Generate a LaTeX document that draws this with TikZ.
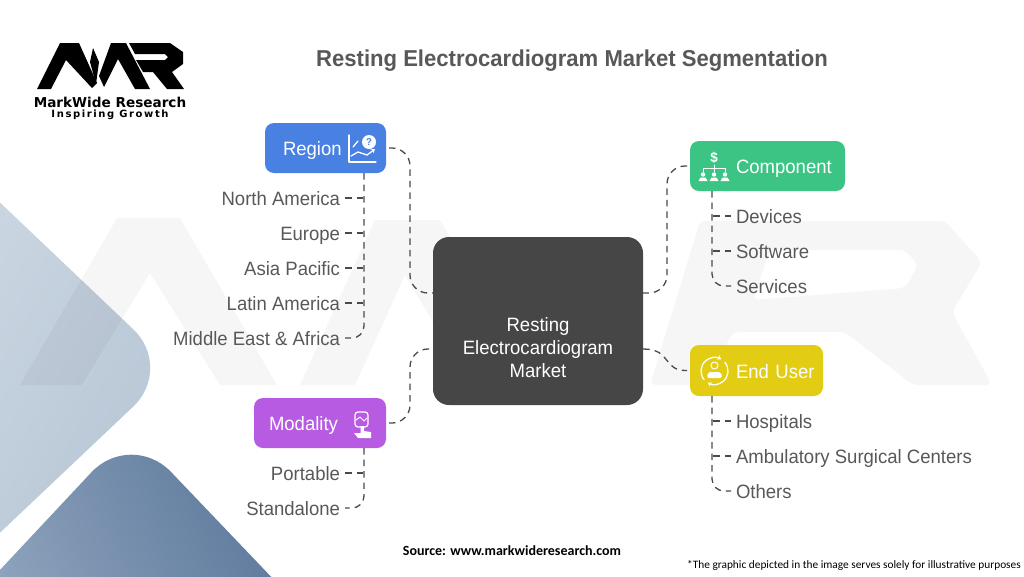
\documentclass[tikz,border=0pt]{standalone}
\usepackage{fontspec}
\usepackage{xcolor}
\usepackage{tikz}
\usetikzlibrary{arrows.meta, calc, positioning}
\setmainfont[FakeStretch=0.96]{Liberation Sans}
\newfontfamily\notefont{Carlito}
\newfontfamily\brandfont{DejaVu Sans}
\newfontfamily\tagfont[LetterSpace=16]{DejaVu Sans}
\definecolor{inkgray}{RGB}{88,88,88}
\definecolor{darkbox}{RGB}{70,70,70}
\definecolor{linegray}{RGB}{74,74,74}
\definecolor{regionc}{RGB}{72,129,226}
\definecolor{compc}{RGB}{60,196,133}
\definecolor{userc}{RGB}{226,204,20}
\definecolor{modc}{RGB}{183,92,226}
\definecolor{paletop}{RGB}{203,214,225}
\definecolor{palelow}{RGB}{182,197,213}
\definecolor{deeptop}{RGB}{146,166,191}
\definecolor{deeplow}{RGB}{88,117,153}

\begin{document}
\begin{tikzpicture}[
  x=1pt, y=-1pt,
  catbox/.style={rounded corners=9pt, text=white, inner xsep=0pt, inner ysep=0pt,
                 align=left, minimum height=50pt, outer sep=3pt,
                 text height=19pt, text depth=4pt,
                 font=\fontsize{19.3}{22}\selectfont},
  leafl/.style={anchor=east, text=inkgray, inner sep=0pt, outer xsep=5pt,
                text height=18pt, text depth=4pt, font=\fontsize{19.3}{22}\selectfont},
  leafr/.style={leafl, anchor=west},
  conn/.style={draw=linegray, line width=1.3pt, dash pattern=on 6.5pt off 5pt},
  icon/.style={draw=white, line width=1.3pt, line cap=round, line join=round},
  wmark/.style={fill=black, opacity=0.035}
]
\useasboundingbox (0,0) rectangle (1024,576);

% ---------- background shapes ----------
\begin{scope}
\clip (0,0) rectangle (1024,576);
\shade[left color=paletop, right color=palelow, shading angle=60, rounded corners=56pt]
  (-50,155) -- (174,368) -- (-50,580) -- cycle;
\shade[left color=deeptop, right color=deeplow, shading angle=115, rounded corners=58pt]
  (-60,634) -- (131,430) -- (320,628) -- cycle;
\fill[wmark] (20,385) -- (117,218) -- (180,218) -- (277,385) -- (220,385) -- (150,273) -- (82,385) -- cycle;
\fill[wmark] (300,385) -- (375,220) -- (440,220) -- (535,385) -- (470,385) -- (405,275) -- (355,385) -- cycle;
\fill[wmark, even odd rule, rounded corners=6pt]
  (650,385) -- (700,221) -- (945,221) -- (982,262) -- (952,312) -- (992,385) -- (913,385) -- (845,332) -- (733,332) -- (705,385) -- cycle
  (753,300) -- (905,288) -- (918,265) -- (905,250) -- (770,250) -- cycle;
\end{scope}

% ---------- logo ----------
\fill[black] (37,89) -- (60,43) -- (79,43) -- (97,83) -- (92,88) -- (66,60) -- (51,89) -- cycle;
\fill[black] (93,48) -- (99,62) -- (96,84) -- (90,62) -- cycle;
\fill[black] (99,76) -- (111,43) -- (126,43) -- (150,89) -- (135,89) -- (118,59) -- (104,87) -- cycle;
\fill[black, even odd rule]
  (129,43) -- (170,43) -- (183,52) -- (183,64) -- (172,72) -- (184,89) -- (167,89) -- (153,72) -- (143,72) -- (136,60) -- (165,60) -- (168,57) -- (165,54) -- (135,54) -- cycle;
\node[inner sep=0pt, font=\brandfont\bfseries\fontsize{13.6}{16}\selectfont] (brand) at (110,102) {MarkWide Research};
\node[inner sep=0pt, font=\tagfont\bfseries\fontsize{10}{11}\selectfont] (tagline) at (110,114.5) {Inspiring Growth};

% ---------- title ----------
\node[inner sep=0pt, text=inkgray, font=\bfseries\fontsize{23}{28}\selectfont] (title) at (572,61)
  {Resting Electrocardiogram Market Segmentation};

% ---------- centre + category boxes ----------
\node[rounded corners=16pt, fill=darkbox, text=white, align=center, minimum width=210pt,
      minimum height=168pt, inner sep=0pt, font=\fontsize{19.3}{23}\selectfont] (centre) at (538,321)
  {\rule{0pt}{67pt}Resting\\Electrocardiogram\\Market};
\node[catbox, fill=regionc, text width=121pt] (region) at (325.5,148) {\hspace*{18pt}Region};
\node[catbox, fill=modc, text width=132pt] (modality) at (320,423) {\hspace*{15pt}Modality};
\node[catbox, fill=compc, text width=155pt] (component) at (767.5,166) {\hspace*{46pt}Component};
\node[catbox, fill=userc, text width=133pt, minimum height=51pt] (enduser) at (756.5,370.5) {\hspace*{46pt}End User};

% ---------- leaves ----------
\foreach \n/\y/\t in {na/198/North America, eu/233/Europe, ap/268/Asia Pacific, la/303/Latin America, mea/338/Middle East \& Africa, po/473/Portable, sa/508/Standalone}
  {\node[leafl] (\n) at (345,\y) {\t};}
\foreach \n/\y/\t in {de/216/Devices, so/251/Software, se/286/Services, ho/421/Hospitals, am/456/Ambulatory Surgical Centers, ot/491/Others}
  {\node[leafr] (\n) at (731,\y) {\t};}

% ---------- connectors ----------
\coordinate (busl) at (410,220);
\coordinate (busr) at (667,220);
\coordinate (cenl1) at (centre.west |- 0,293);
\coordinate (cenl2) at (centre.west |- 0,349);
\coordinate (cenr1) at (centre.east |- 0,293);
\coordinate (cenr2) at (centre.east |- 0,349);
\draw[conn, rounded corners=18pt] (region.east) -| (busl) |- (cenl1);
\draw[conn, rounded corners=18pt] (modality.east) -| (410,385) |- (cenl2);
\draw[conn, rounded corners=18pt] (component.west) -| (busr) |- (cenr1);
\draw[conn] (cenr2) .. controls (672,349) and (662,371) .. (enduser.west);

\coordinate (tl1) at (364,173);
\coordinate (tl2) at (364,448);
\coordinate (tr1) at (712,191);
\coordinate (tr2) at (712,396);
\foreach \n in {na,eu,ap,la}
  {\draw[conn] (\n.east) -- (\n.east -| tl1);}
\foreach \n in {de,so}
  {\draw[conn] (\n.west) -- (\n.west -| tr1);}
\foreach \n in {ho,am}
  {\draw[conn] (\n.west) -- (\n.west -| tr2);}
\draw[conn] (po.east) -- (po.east -| tl2);
\draw[conn, rounded corners=12pt] (tl1) |- (mea.east);
\draw[conn, rounded corners=12pt] (tl2) |- (sa.east);
\draw[conn, rounded corners=12pt] (tr1) |- (se.west);
\draw[conn, rounded corners=12pt] (tr2) |- (ot.west);

% ---------- icons ----------
\draw[icon] (349,135) -- (349,162) -- (376,162);
\draw[icon] (353,147) -- (358,141);
\draw[icon, -{Stealth[length=4pt, width=5pt]}] (351,156) -- (358,152) -- (367,155) -- (375,149);
\fill[white] (369,142) circle (7pt);
\node[inner sep=0pt, text=regionc, font=\bfseries\fontsize{10}{10}\selectfont] (qmark) at (369,142) {?};

\node[inner sep=0pt, text=white, font=\bfseries\fontsize{14}{14}\selectfont] (dollar) at (714,158) {\$};
\draw[icon, line width=1pt] (714,165) -- (714,172) (703,172) -- (703,168) -- (725,168) -- (725,172);
\foreach \x in {703,714,725}
  {\fill[white] (\x,174.5) circle (2.2pt);
   \fill[white] (\x-4.5,181) -- (\x+4.5,181) -- (\x+2.5,177.5) -- (\x-2.5,177.5) -- cycle;}

\draw[icon, -{Stealth[length=4pt, width=5pt]}] (714.5,371) ++(140:13.5) arc (140:300:13.5);
\draw[icon, -{Stealth[length=4pt, width=5pt]}] (714.5,371) ++(320:13.5) arc (320:480:13.5);
\draw[icon, line width=1pt] (714.5,365.5) circle (3.5pt);
\fill[white, rounded corners=2pt] (707,378) -- (722,378) -- (721,372) -- (708,372) -- cycle;

\draw[icon, line width=1.2pt, rounded corners=3pt] (355,412) rectangle (368,427);
\draw[icon, line width=1pt] (356,420) -- (360,417) -- (364,421) -- (367,418);
\fill[white] (360.5,426) -- (364,426) -- (364,431) -- (371,432) -- (371,438) -- (358,438) -- (354,433) -- (360.5,433) -- cycle;

% ---------- footer ----------
\node[inner sep=0pt, font=\notefont\bfseries\fontsize{14}{15}\selectfont] (source) at (512,551) {Source: www.markwideresearch.com};
\node[inner sep=0pt, anchor=east, font=\notefont\fontsize{11.35}{13}\selectfont] (note) at (1021,565.5)
  {*The graphic depicted in the image serves solely for illustrative purposes};
\end{tikzpicture}
\end{document}
